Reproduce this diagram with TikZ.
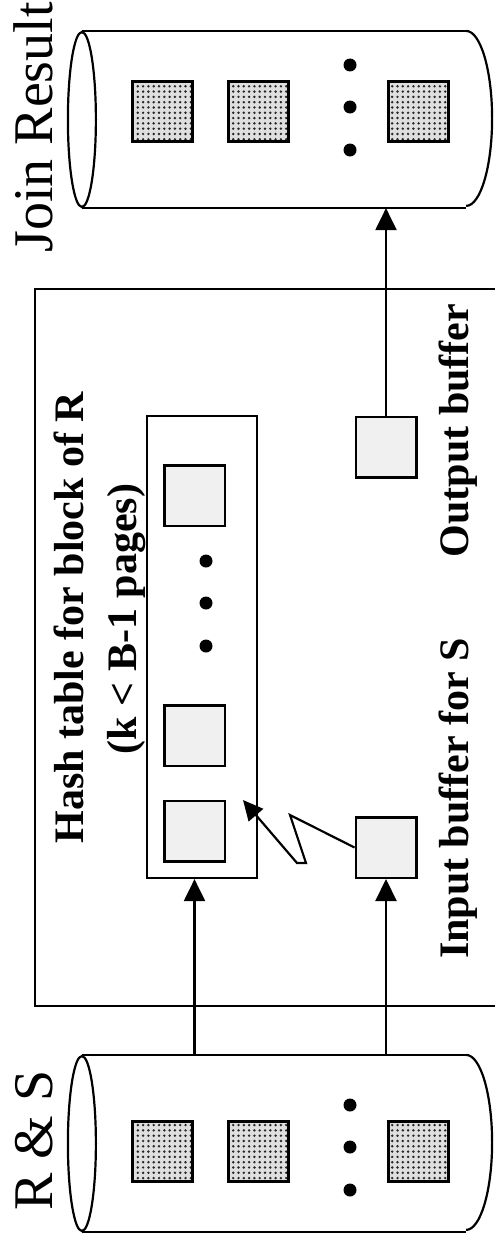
\documentclass[tikz,border=0pt]{standalone}
\usepackage{fontspec}
\setmainfont{Liberation Serif}
\usetikzlibrary{arrows.meta,patterns.meta}
\begin{document}
\begin{tikzpicture}[x=1pt,y=-1pt,line width=2.2pt,
  body/.style={rectangle,inner sep=0pt,draw=none,minimum width=382pt,minimum height=175pt},
  dotsq/.style={rectangle,draw,line width=3pt,minimum size=60pt,inner sep=0pt,
    preaction={fill=gray!25},pattern={Dots[distance=5.3pt,radius=1.35pt]},pattern color=black!85},
  pgsq/.style={rectangle,draw,line width=2.5pt,fill=gray!12,minimum size=60.5pt,inner sep=0pt},
  bigdot/.style={circle,fill,inner sep=0pt,minimum size=13pt},
  arr/.style={-{Triangle[length=22pt,width=21pt]},line width=2.2pt},
  disklabel/.style={rotate=90,anchor=base west,font=\fontsize{56}{60}\selectfont},
  boldlabel/.style={rotate=90,anchor=base,font=\bfseries\fontsize{42}{48}\selectfont}]
\useasboundingbox (0,0) rectangle (495,1247);

% memory box
\node[draw,rectangle,inner sep=0pt,minimum width=485pt,minimum height=717pt] (mem) at (277.5,647.5) {};

% Join Result disk
\node[body] (jr) at (274,119.5) {};
\draw (jr.north west) -- (jr.north east) (jr.south west) -- (jr.south east);
\draw (jr.west) ellipse [x radius=14pt,y radius=87.5pt];
\draw (jr.north east) arc [start angle=90,end angle=-90,x radius=26pt,y radius=87.5pt];
\node[dotsq] (jr1) at (162.5,111.5) {};
\node[dotsq] (jr2) at (258.5,111.5) {};
\node[dotsq] (jr3) at (418.5,111.5) {};
\node[bigdot] (jrd1) at (350,65) {};
\node[bigdot] (jrd2) at (350,107) {};
\node[bigdot] (jrd3) at (350,150) {};
\node[disklabel] (jrl) at (52,257) {Join Result};

% R & S disk
\node[body] (rs) at (274,1143.5) {};
\draw (rs.north west) -- (rs.north east) (rs.south west) -- (rs.south east);
\draw (rs.west) ellipse [x radius=14pt,y radius=87.5pt];
\draw (rs.north east) arc [start angle=90,end angle=-90,x radius=26pt,y radius=87.5pt];
\node[dotsq] (rs1) at (162.5,1151.5) {};
\node[dotsq] (rs2) at (258.5,1151.5) {};
\node[dotsq] (rs3) at (418.5,1151.5) {};
\node[bigdot] (rsd1) at (350,1105) {};
\node[bigdot] (rsd2) at (350,1147) {};
\node[bigdot] (rsd3) at (350,1190) {};
\node[disklabel] (rsl) at (52,1215) {R \& S};

% hash table
\node[draw,rectangle,inner sep=0pt,minimum width=110pt,minimum height=462pt] (ht) at (202,647) {};
\node[pgsq] (h1) at (194.5,495.5) {};
\node[pgsq] (h2) at (194.5,735.5) {};
\node[pgsq] (h3) at (194.5,831) {};
\node[bigdot] (hd1) at (206,561) {};
\node[bigdot] (hd2) at (206,603) {};
\node[bigdot] (hd3) at (206,646) {};
\node[boldlabel] (htl1) at (83,617.5) {Hash table for block of R};
\node[boldlabel] (htl2) at (136,619) {(k < B-1 pages)};

% buffers
\node[pgsq] (osq) at (386,447) {};
\node[pgsq] (isq) at (386,847.5) {};
\node[boldlabel] (ibl) at (468,798.5) {Input buffer for S};
\node[boldlabel] (obl) at (468,430.5) {Output buffer};

% connectors
\draw[arr] (osq.north) -- (osq.north |- jr.south);
\draw[arr] (h3 |- rs.north) -- (h3 |- ht.south);
\draw[arr] (isq |- rs.north) -- (isq.south);
\coordinate (z1) at (290,815);
\coordinate (z2) at (306,863);
\coordinate (z3) at (297,863);
\coordinate (ztip) at (243,800);
\draw[-{Triangle[length=20pt,width=19pt]},line width=2.2pt,line join=miter]
  (isq.west) -- (z1) -- (z2) -- (z3) -- (ztip);
\end{tikzpicture}
\end{document}
